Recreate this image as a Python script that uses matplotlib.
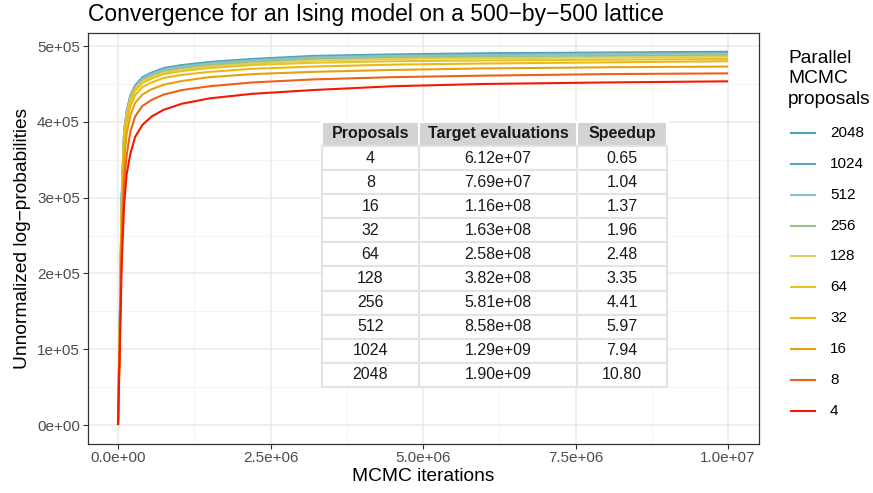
import matplotlib.pyplot as plt
from matplotlib.lines import Line2D
from matplotlib.ticker import FixedLocator
import numpy as np

plt.rcParams['font.family'] = ['Liberation Sans', 'DejaVu Sans']

iterations = np.array([0, 0.03, 0.06, 0.1, 0.14, 0.2, 0.28, 0.4, 0.55, 0.75,
                       1.05, 1.5, 2.2, 3.2, 4.5, 6, 8, 10]) * 1e6

# unnormalized log-probabilities (x 1e5) per number of parallel proposals
logp_4 = [0, 1.0, 2.1, 2.9, 3.3, 3.57, 3.8, 3.96, 4.07, 4.16, 4.24, 4.31, 4.37, 4.42, 4.47, 4.50, 4.52, 4.535]
logp_8 = [0, 1.1, 2.4, 3.2, 3.55, 3.86, 4.07, 4.21, 4.29, 4.36, 4.42, 4.47, 4.52, 4.56, 4.59, 4.61, 4.63, 4.64]
logp_16 = [0, 1.2, 2.6, 3.5, 3.83, 4.08, 4.25, 4.36, 4.43, 4.49, 4.54, 4.59, 4.63, 4.66, 4.685, 4.705, 4.72, 4.73]
logp_32 = [0, 1.25, 2.75, 3.7, 3.98, 4.2, 4.35, 4.46, 4.52, 4.58, 4.62, 4.66, 4.7, 4.73, 4.755, 4.77, 4.785, 4.80]
logp_64 = [0, 1.3, 2.85, 3.8, 4.06, 4.27, 4.41, 4.51, 4.57, 4.63, 4.67, 4.71, 4.75, 4.78, 4.80, 4.81, 4.82, 4.83]
logp_128 = [0, 1.33, 2.9, 3.82, 4.08, 4.29, 4.43, 4.53, 4.59, 4.65, 4.69, 4.73, 4.77, 4.81, 4.83, 4.84, 4.85, 4.86]
logp_256 = [0, 1.36, 2.93, 3.84, 4.10, 4.31, 4.45, 4.55, 4.61, 4.67, 4.71, 4.75, 4.79, 4.83, 4.85, 4.86, 4.87, 4.88]
logp_512 = [0, 1.38, 2.96, 3.86, 4.11, 4.32, 4.46, 4.57, 4.63, 4.69, 4.73, 4.77, 4.81, 4.85, 4.87, 4.88, 4.895, 4.90]
logp_1024 = [0, 1.39, 2.98, 3.87, 4.12, 4.33, 4.47, 4.58, 4.64, 4.70, 4.74, 4.78, 4.82, 4.86, 4.88, 4.895, 4.905, 4.915]
logp_2048 = [0, 1.4, 3.0, 3.88, 4.13, 4.34, 4.48, 4.59, 4.65, 4.71, 4.75, 4.79, 4.83, 4.87, 4.89, 4.905, 4.915, 4.925]

proposals = [4, 8, 16, 32, 64, 128, 256, 512, 1024, 2048]
curves = [logp_4, logp_8, logp_16, logp_32, logp_64, logp_128, logp_256, logp_512, logp_1024, logp_2048]
colors = ['#F21A00', '#EE6118', '#E6A10A', '#EBB81A', '#E8C31E',
          '#D9CF63', '#9DBE86', '#8CC2CE', '#57A8B8', '#4BA3BB']

# table values
target_evals = ['6.12e+07', '7.69e+07', '1.16e+08', '1.63e+08', '2.58e+08',
                '3.82e+08', '5.81e+08', '8.58e+08', '1.29e+09', '1.90e+09']
speedup = ['0.65', '1.04', '1.37', '1.96', '2.48', '3.35', '4.41', '5.97', '7.94', '10.80']

W, H = 873, 493
fig = plt.figure(figsize=(W / 100, H / 100), dpi=100)
ax = fig.add_axes([87.5 / W, 1 - 443.7 / H, 671 / W, 411 / H])

# draw largest first so the red line ends up on top
for p, y, c in reversed(list(zip(proposals, curves, colors))):
    ax.plot(iterations, np.array(y) * 1e5, color=c, lw=1.5, solid_capstyle='butt')

ax.set_xlim(-5e5, 1.05e7)
ax.set_ylim(-24650, 517650)
ax.xaxis.set_major_locator(FixedLocator([0, 2.5e6, 5e6, 7.5e6, 1e7]))
ax.xaxis.set_minor_locator(FixedLocator([1.25e6, 3.75e6, 6.25e6, 8.75e6]))
ax.yaxis.set_major_locator(FixedLocator([0, 1e5, 2e5, 3e5, 4e5, 5e5]))
ax.yaxis.set_minor_locator(FixedLocator([0.5e5, 1.5e5, 2.5e5, 3.5e5, 4.5e5]))
ax.set_xticklabels(['0.0e+00', '2.5e+06', '5.0e+06', '7.5e+06', '1.0e+07'])
ax.set_yticklabels(['0e+00', '1e+05', '2e+05', '3e+05', '4e+05', '5e+05'])
ax.grid(which='major', color='#EBEBEB', lw=1.1)
ax.grid(which='minor', color='#F2F2F2', lw=0.6)
ax.set_axisbelow(True)
ax.tick_params(which='major', length=3.5, width=0.8, color='#333333',
               labelsize=11, labelcolor='#4D4D4D', pad=2)
ax.tick_params(which='minor', length=0)
for s in ax.spines.values():
    s.set_color('#333333')
    s.set_linewidth(0.9)

ax.set_xlabel('MCMC iterations', fontsize=13.75, labelpad=2)
ax.set_ylabel('Unnormalized log\u2212probabilities', fontsize=13.75, labelpad=4)
fig.text(88 / W, 1 - 14 / H, 'Convergence for an Ising model on a 500\u2212by\u2212500 lattice',
         fontsize=16.5, ha='left', va='center')

# table of evaluations / speedup
cell_text = [[str(p), t, s] for p, t, s in zip(proposals, target_evals, speedup)]
tbl = ax.table(cellText=cell_text, colLabels=['Proposals', 'Target evaluations', 'Speedup'],
               cellLoc='center', colWidths=[0.2815, 0.4575, 0.261],
               bbox=[0.3495, 0.138, 0.514, 0.645])
tbl.set_zorder(3)
tbl.auto_set_font_size(False)
tbl.set_fontsize(11.5)
for (r, c), cell in tbl.get_celld().items():
    cell.set_linewidth(1.5)
    if r == 0:
        cell.set_facecolor('#D3D3D3')
        cell.set_edgecolor('white')
        cell.get_text().set_fontweight('bold')
    else:
        cell.set_facecolor('white')
        cell.set_edgecolor('#E3E3E3')
    cell.get_text().set_color('#1A1A1A')

# legend drawn by hand, largest proposal count on top
fig.text(788 / W, 1 - 50 / H, 'Parallel\nMCMC\nproposals', fontsize=13.75,
         ha='left', va='top', linespacing=1.25)
for i, (p, c) in enumerate(zip(reversed(proposals), reversed(colors))):
    yk = 1 - (133 + i * 30.85) / H
    fig.add_artist(Line2D([791 / W, 815 / W], [yk, yk], color=c, lw=1.5))
    fig.text(830 / W, yk, str(p), fontsize=11, ha='left', va='center')

fig.savefig('out.png', dpi=100)
